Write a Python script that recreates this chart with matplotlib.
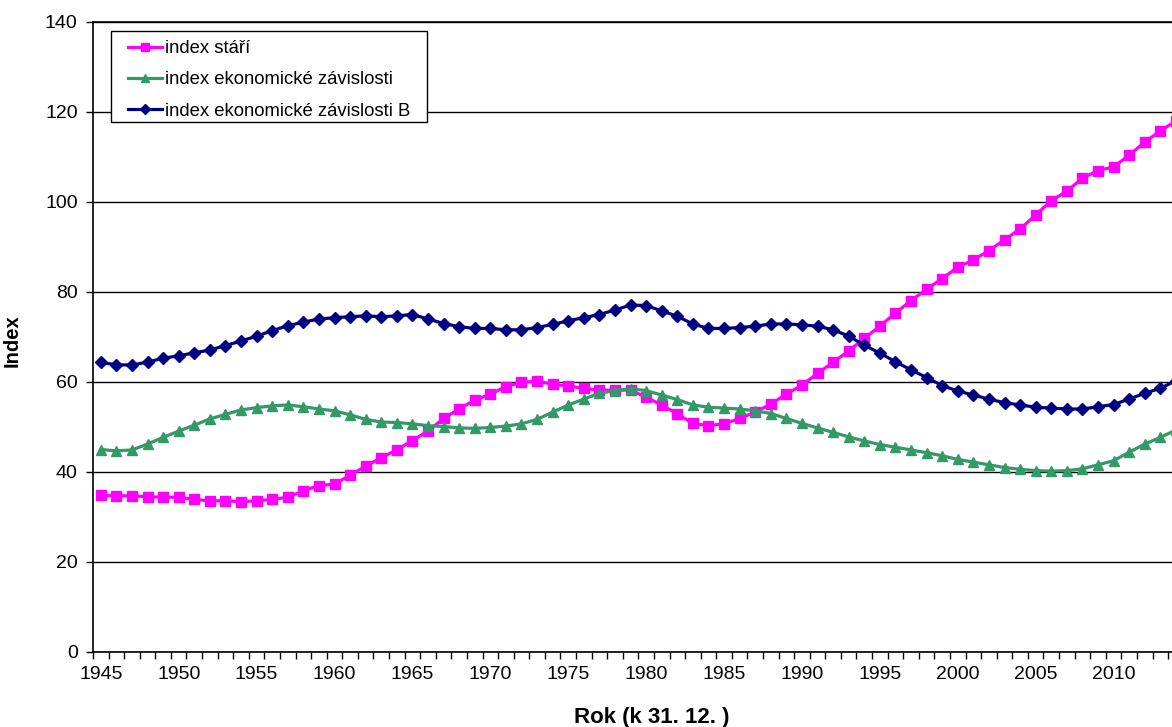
import numpy as np
import matplotlib
matplotlib.use("Agg")
import matplotlib.pyplot as plt
from matplotlib.patches import Rectangle
from matplotlib.ticker import MultipleLocator, FixedLocator

plt.rcParams['font.family'] = ['Liberation Sans', 'DejaVu Sans']

# years 1945 - 2014 (one value per year, as of 31.12.)
years = np.arange(1945, 2015)

index_stari = [
    34.9, 34.7, 34.7, 34.5, 34.4, 34.4, 33.9, 33.6, 33.6, 33.4,
    33.6, 33.9, 34.4, 35.8, 37.0, 37.3, 39.3, 41.3, 43.2, 44.9,
    47.0, 49.1, 51.9, 54.0, 56.0, 57.3, 59.0, 59.9, 60.2, 59.5,
    59.1, 58.6, 58.2, 58.2, 58.2, 56.6, 54.9, 52.9, 50.8, 50.3,
    50.7, 51.9, 53.3, 55.1, 57.3, 59.3, 61.9, 64.4, 66.9, 69.7,
    72.4, 75.3, 78.1, 80.6, 83.0, 85.5, 87.1, 89.2, 91.6, 94.0,
    97.1, 100.3, 102.4, 105.3, 107.0, 107.8, 110.4, 113.3, 115.8, 118.0,
]

index_ek_zavislosti = [
    45.0, 44.7, 44.9, 46.2, 47.7, 49.1, 50.4, 51.8, 52.8, 53.8,
    54.3, 54.7, 54.9, 54.5, 54.0, 53.6, 52.7, 51.7, 51.1, 51.0,
    50.7, 50.3, 50.1, 49.8, 49.7, 49.9, 50.2, 50.7, 51.7, 53.3,
    54.9, 56.2, 57.5, 58.1, 58.5, 58.1, 57.1, 56.1, 54.9, 54.4,
    54.2, 54.0, 53.6, 53.0, 51.9, 50.8, 49.8, 48.8, 47.8, 46.9,
    46.1, 45.5, 44.9, 44.3, 43.6, 42.8, 42.2, 41.6, 41.0, 40.6,
    40.3, 40.2, 40.3, 40.7, 41.6, 42.5, 44.4, 46.2, 47.7, 49.3,
]

index_ek_zavislosti_b = [
    64.4, 63.8, 63.8, 64.4, 65.3, 65.8, 66.5, 67.1, 68.1, 69.1,
    70.2, 71.4, 72.5, 73.3, 74.0, 74.3, 74.5, 74.7, 74.5, 74.7,
    75.0, 74.0, 73.0, 72.3, 71.9, 71.9, 71.6, 71.6, 72.1, 72.8,
    73.6, 74.3, 75.0, 76.0, 77.1, 77.0, 75.8, 74.6, 72.9, 71.9,
    71.9, 72.1, 72.4, 72.9, 72.9, 72.7, 72.4, 71.6, 70.2, 68.2,
    66.4, 64.5, 62.7, 61.0, 59.2, 58.0, 57.1, 56.2, 55.4, 54.9,
    54.4, 54.2, 54.0, 54.0, 54.5, 55.0, 56.2, 57.5, 58.6, 60.3,
]

fig = plt.figure(figsize=(11.72, 7.27), dpi=100)
ax = fig.add_axes([93 / 1172, 75 / 727, 1079 / 1172, 630 / 727])

ax.plot(years, index_stari, color='#FF00FF', lw=2.3, marker='s', ms=6.5,
        label='index stáří')
ax.plot(years, index_ek_zavislosti, color='#339966', lw=2.3, marker='^', ms=7,
        label='index ekonomické závislosti')
ax.plot(years, index_ek_zavislosti_b, color='#000080', lw=2.3, marker='D', ms=6,
        label='index ekonomické závislosti B')

ax.set_xlim(1944.5, 2013.75)
ax.set_ylim(0, 140)

# y axis
ax.yaxis.set_major_locator(MultipleLocator(20))
ax.yaxis.grid(True, color='black', linewidth=1.0)
ax.set_axisbelow(True)
ax.tick_params(axis='y', direction='out', length=5, width=1, pad=6, labelsize=14)

# x axis: labels every 5 years, tick marks between the years
ax.xaxis.set_major_locator(FixedLocator(np.arange(1945, 2014, 5)))
ax.xaxis.set_minor_locator(FixedLocator(np.arange(1944.5, 2014, 1)))
ax.tick_params(axis='x', which='major', length=0, pad=10, labelsize=14)
ax.tick_params(axis='x', which='minor', direction='out', length=5, width=1)

ax.spines['right'].set_visible(False)
for s in ['left', 'bottom', 'top']:
    ax.spines[s].set_linewidth(1.2)

ax.set_ylabel('Index', fontsize=14.5, fontweight='bold')
ax.yaxis.set_label_coords(-0.066, 0.495)
ax.set_xlabel('Rok (k 31. 12. )', fontsize=16, fontweight='bold')
ax.xaxis.set_label_coords(0.518, -0.088)

# legend box drawn separately so the inner padding can differ per side
box = Rectangle((0.0167, 0.8413), 0.2929, 0.1444, transform=ax.transAxes,
                facecolor='white', edgecolor='black', linewidth=1.0, zorder=4)
ax.add_patch(box)
leg = ax.legend(loc='upper left', bbox_to_anchor=(0.0324, 0.9714),
                borderaxespad=0, borderpad=0, fontsize=13.3, frameon=False,
                handlelength=1.84, handletextpad=0.16, labelspacing=0.78,
                markerscale=0.8)
leg.set_zorder(5)

fig.savefig('out.png', dpi=100)
